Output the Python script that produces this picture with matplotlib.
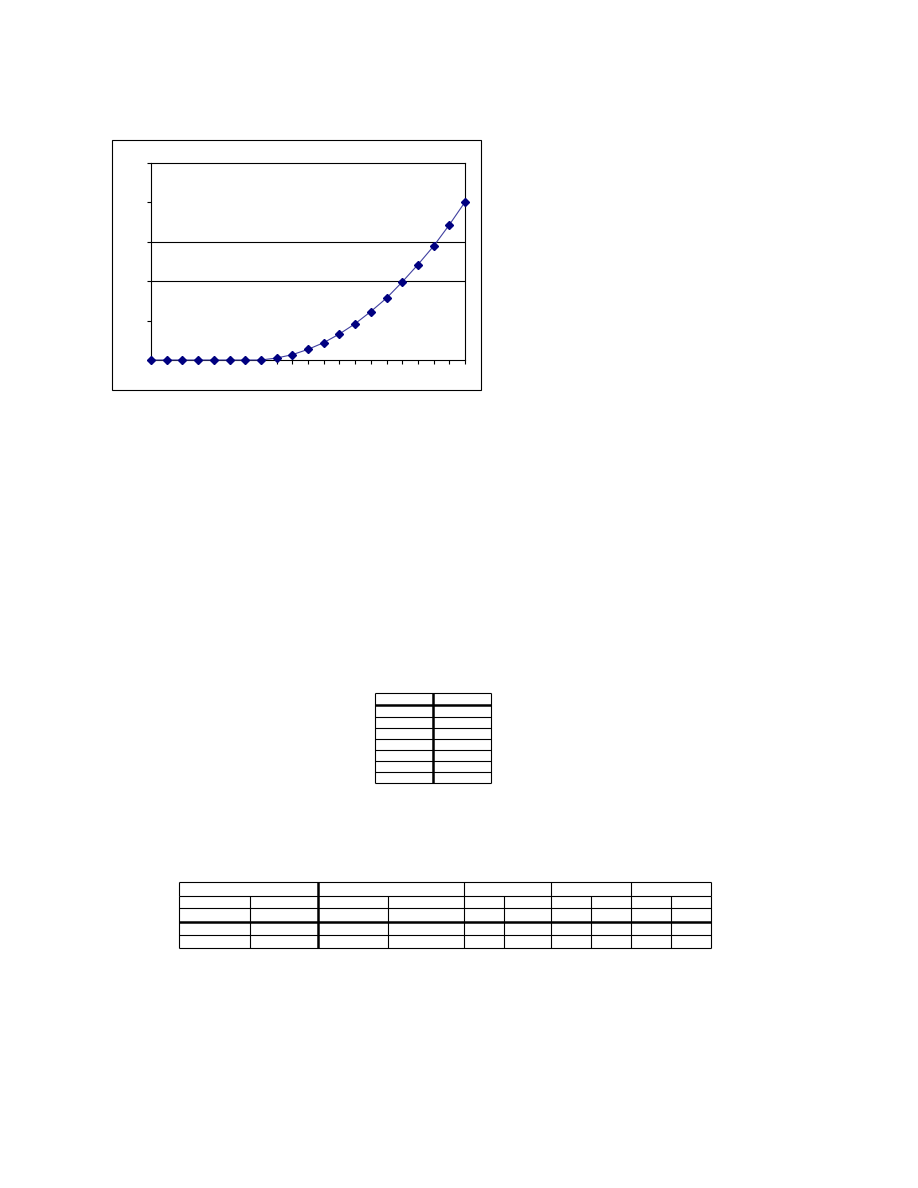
import numpy as np
import matplotlib
matplotlib.use("Agg")
import matplotlib.pyplot as plt

# Series values (y axis 0..5, 21 points)
x_vals = list(range(21))
y_vals = [0, 0, 0, 0, 0, 0, 0, 0, 0.05, 0.135, 0.27, 0.44, 0.66, 0.92,
          1.23, 1.57, 1.98, 2.42, 2.89, 3.43, 4.01]
y_ticks = [0, 1, 2, 3, 4, 5]
grid_levels = [2, 3]

W, H = 918, 1188
fig = plt.figure(figsize=(W / 100, H / 100), dpi=100)
fig.patch.set_facecolor("white")

# overlay axes in pixel coords for the chart frame and the tables
ov = fig.add_axes([0, 0, 1, 1])
ov.set_xlim(0, W)
ov.set_ylim(H, 0)
ov.axis("off")

thin = 0.8
thick = 1.8

# chart outer frame
ov.add_patch(plt.Rectangle((112, 140), 369, 250, fill=False, edgecolor="black", linewidth=thin))

# plot area
left, right, top, bottom = 151, 465, 163, 360
ax = fig.add_axes([left / W, 1 - bottom / H, (right - left) / W, (bottom - top) / H])
ax.plot(x_vals, y_vals, color="#4040a0", linewidth=0.8, marker="D", markersize=3.6,
        markerfacecolor="#000080", markeredgecolor="#000080", zorder=3, clip_on=False)
for g in grid_levels:
    ax.axhline(g, color="black", linewidth=thin, zorder=1)
ax.set_xlim(0, 20)
ax.set_ylim(0, 5)
ax.set_xticks(x_vals)
ax.set_yticks(y_ticks)
ax.set_xticklabels([])
ax.set_yticklabels([])
ax.tick_params(direction="out", length=3, width=thin, color="black")
for s in ax.spines.values():
    s.set_linewidth(thin)
    s.set_color("black")

# small table (2 columns, header + 7 rows)
t1_cols = [375, 433, 491]
t1_rows = [693, 705, 716.7, 727.7, 738.7, 749.7, 760.7, 771.7, 782.7]
for i, yy in enumerate(t1_rows):
    ov.hlines(yy, t1_cols[0], t1_cols[-1], color="black", linewidth=thick if i == 1 else thin)
for i, xx in enumerate(t1_cols):
    ov.vlines(xx, t1_rows[0], t1_rows[-1], color="black", linewidth=thick if i == 1 else thin)

# wide table: merged group header row + 4 rows of 10 columns
t2_cols = [179, 250, 318, 388, 464, 504, 551, 591, 631, 671, 711]
t2_groups = [179, 318, 464, 551, 631, 711]
t2_rows = [882.3, 895.7, 908.3, 922.3, 935, 947.7]
for i, yy in enumerate(t2_rows):
    ov.hlines(yy, t2_cols[0], t2_cols[-1], color="black", linewidth=thick if i == 3 else thin)
for xx in t2_groups:
    ov.vlines(xx, t2_rows[0], t2_rows[1], color="black", linewidth=thick if xx == 318 else thin)
for xx in t2_cols:
    ov.vlines(xx, t2_rows[1], t2_rows[-1], color="black", linewidth=thick if xx == 318 else thin)

fig.savefig("out.png", dpi=100, facecolor="white")
